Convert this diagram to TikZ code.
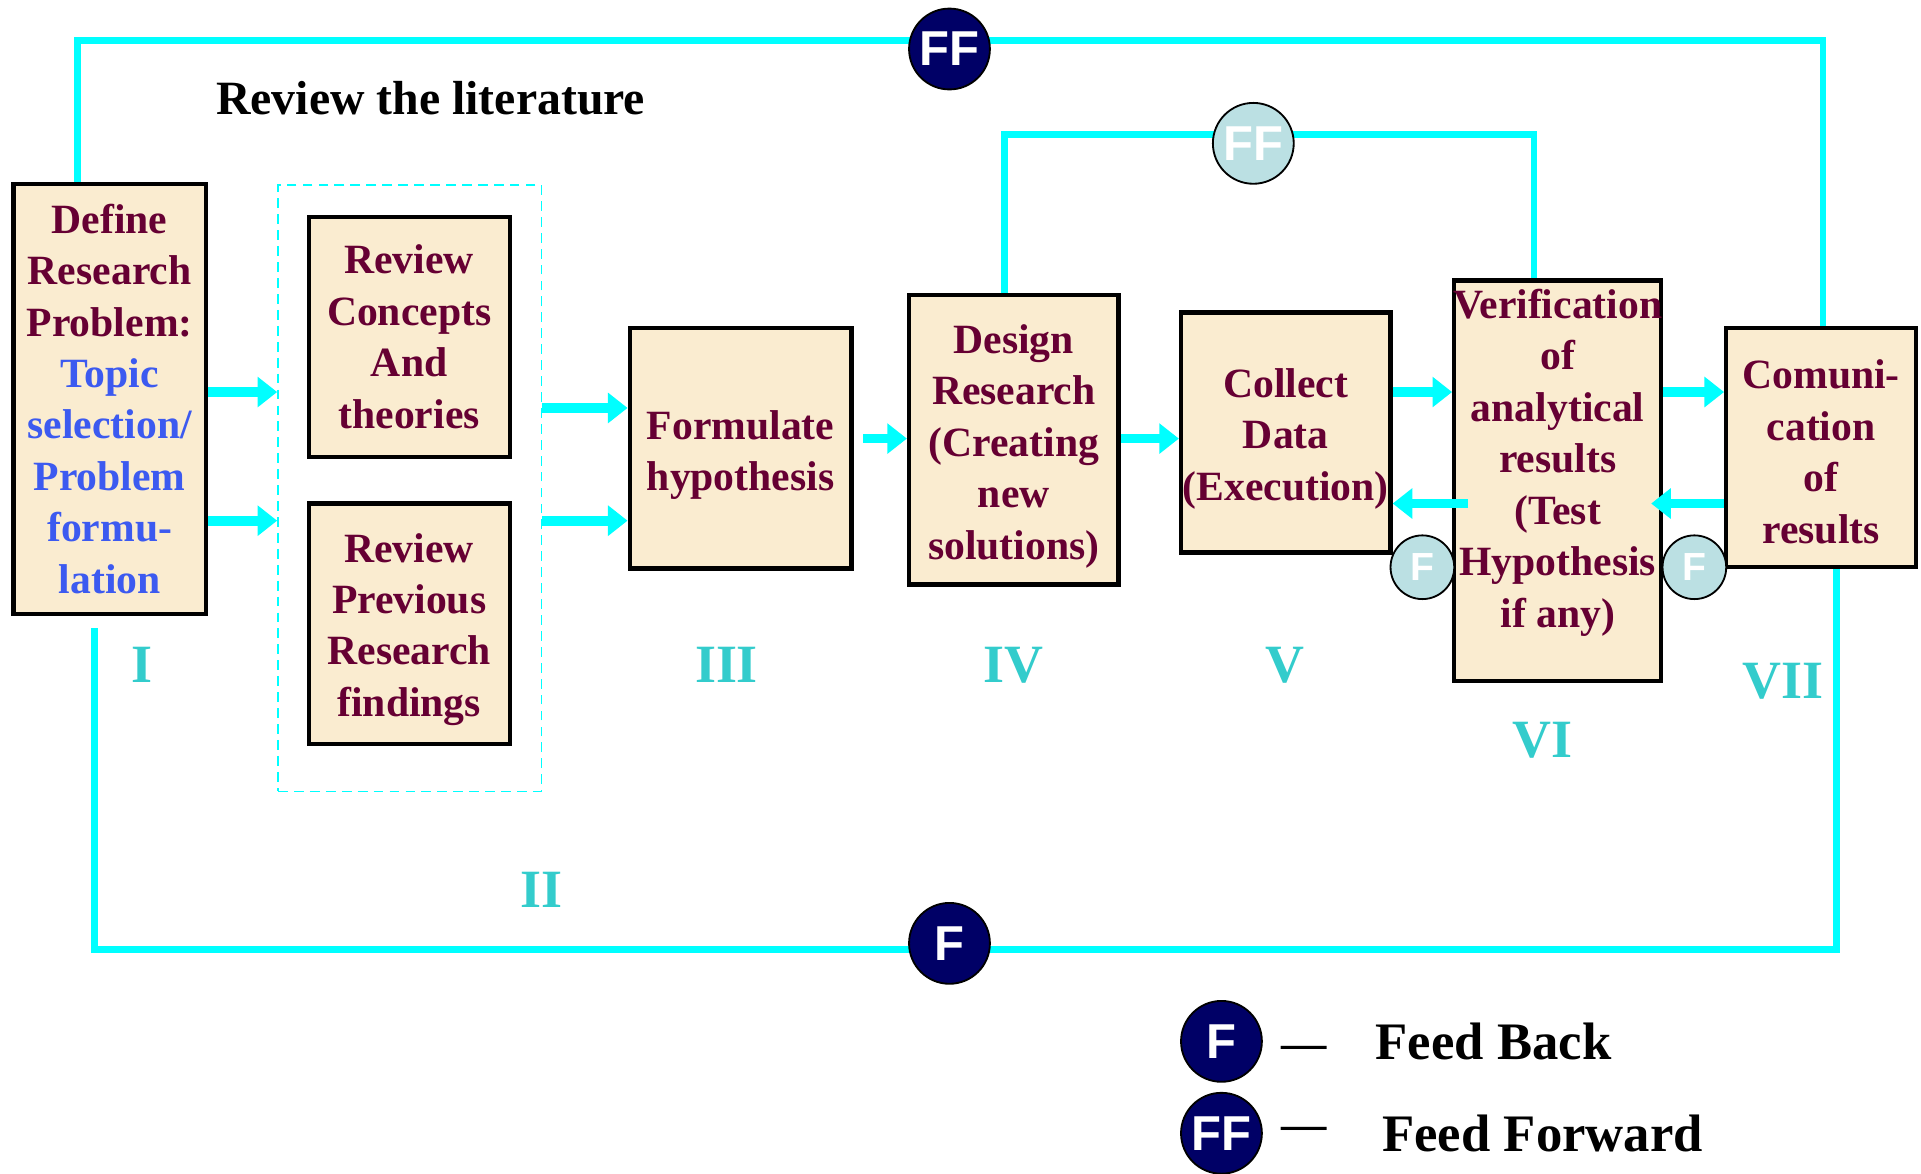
\documentclass[tikz,border=0pt]{standalone}
\usepackage{fontspec}
\setmainfont{Liberation Serif}
\newfontfamily\circfont{Liberation Sans}
\usepackage{xcolor}
\usepackage{tikz}
\usetikzlibrary{positioning,arrows.meta,calc}
\definecolor{boxfill}{RGB}{250,236,208}
\definecolor{wine}{RGB}{102,0,51}
\definecolor{topicblue}{RGB}{60,90,240}
\definecolor{aqua}{RGB}{0,255,255}
\definecolor{numteal}{RGB}{51,204,204}
\definecolor{navy}{RGB}{0,0,102}
\definecolor{paleblue}{RGB}{187,224,227}
\newcommand{\stagestrut}[1]{\rule{0pt}{#1pt}}
\tikzset{
stagetext/.style={text=wine,align=center,inner sep=0pt,font=\bfseries\fontsize{34}{42}\selectfont},
stage/.style={stagetext,draw=black,line width=3.5pt,fill=boxfill},
fb/.style={draw=aqua,line width=5.5pt},
arr/.style={draw=aqua,line width=8pt,-{Triangle[length=16pt,width=24pt]}},
darkdot/.style={circle,draw=black,line width=1.5pt,fill=navy,text=white,inner sep=0pt,minimum size=66pt,font=\circfont\bfseries\fontsize{40}{40}\selectfont},
palebig/.style={darkdot,fill=paleblue},
palesmall/.style={palebig,minimum size=52pt,font=\circfont\bfseries\fontsize{32}{32}\selectfont},
numeral/.style={text=numteal,font=\bfseries\fontsize{44}{44}\selectfont},
keytext/.style={inner sep=0pt,font=\bfseries\fontsize{43}{43}\selectfont},
keydash/.style={inner sep=0pt,font=\bfseries\fontsize{37}{37}\selectfont}
}
\begin{document}
\begin{tikzpicture}[x=1pt,y=-1pt]
\useasboundingbox (0,0) rectangle (1568,957.5);
\node[font=\bfseries\fontsize{39}{39}\selectfont] (title) at (351.5,80) {Review the literature};
\node(def)  [stage,minimum width=157,minimum height=351] at (89.5,325.5)
  {Define\\Research\\Problem:\\\textcolor{topicblue}{Topic}\\\textcolor{topicblue}{selection/}\\\textcolor{topicblue}{Problem}\\\textcolor{topicblue}{formu-}\\\textcolor{topicblue}{lation}};
\node(lit)  [draw=aqua,line width=1.5pt,dash pattern=on 8pt off 5pt,minimum width=215,minimum height=495] at (334.5,398.5) {};
\node(rc)   [stage,minimum width=164,minimum height=196] at (334,275) {Review\\Concepts\\And\\theories};
\node(rp)   [stage,minimum width=164,minimum height=196] at (334,509) {\stagestrut{33}Review\\Previous\\Research\\findings};
\node(form) [stage,minimum width=181,minimum height=196] at (604.5,366) {\stagestrut{34}Formulate\\hypothesis};
\node(des)  [stage,minimum width=171,minimum height=236] at (827.5,359) {\stagestrut{34}Design\\Research\\(Creating\\new\\solutions)};
\node(col)  [stage,minimum width=171,minimum height=196] at (1049.5,353) {\stagestrut{34}Collect\\Data\\(Execution)};
\node(ver)  [stage,minimum width=169,minimum height=327] at (1271.5,392.5) {};
\node(vertext) [stagetext] at (1271.5,377.5) {Verification\\of\\analytical\\results\\(Test\\Hypothesis\\if any)};
\node(comm) [stage,minimum width=155,minimum height=195] at (1486.5,365.5) {\stagestrut{30}Comuni-\\cation\\of\\results};
\coordinate (topline) at (775,33);
\coordinate (midline) at (1023,110);
\coordinate (botline) at (775,775);
\draw[fb] (def.north-|63,0) |- (topline) -| (comm.north-|1488,0);
\draw[fb] (des.north-|820,0) |- (midline) -| (ver.north-|1252,0);
\draw[fb,shorten <=10pt] (def.south-|77,0) |- (botline) -| (comm.south-|1499,0);
\draw[arr] (def.east|-0,320) -- (lit.west|-0,320);
\draw[arr] (def.east|-0,425) -- (lit.west|-0,425);
\draw[arr] (lit.east|-0,333) -- (form.west|-0,333);
\draw[arr] (lit.east|-0,425) -- (form.west|-0,425);
\draw[arr,shorten <=8pt] (form.east|-0,358) -- (des.west|-0,358);
\draw[arr] (des.east|-0,358) -- (col.west|-0,358);
\draw[arr] (col.east|-0,320) -- (ver.west|-0,320);
\draw[arr,shorten <=-13pt] (ver.west|-0,411) -- (col.east|-0,411);
\draw[arr] (ver.east|-0,320) -- (comm.west|-0,320);
\draw[arr,shorten >=-10pt] (comm.west|-0,411) -- (ver.east|-0,411);
\node(ffTop) [darkdot] at (775,40) {FF};
\node(ffMid) [palebig] at (1023,117) {FF};
\node(fBot)  [darkdot] at (775,770) {F};
\node(fCol)  [palesmall] at (1161,463) {F};
\node(fVer)  [palesmall] at (1383,463) {F};
\foreach \x/\y/\r [count=\i] in {116/543/I,442/726/II,593/543/III,827/543/IV,1049/543/V,1259/604/VI,1455/556/VII}
\node(num\i) [numeral] at (\x,\y) {\r};
\node(keyF)  [darkdot] at (997,850) {F};
\node(keyFF) [darkdot] at (997,925) {FF};
\node(dashF)  [keydash,right=15pt of keyF,yshift=-9pt] {---};
\node(dashFF) [keydash,right=15pt of keyFF] {---};
\node(txtF)  [keytext,right=40pt of keyF.east,xshift=52pt] {Feed Back};
\node(txtFF) [keytext,right=45pt of dashFF] {Feed Forward};
\end{tikzpicture}
\end{document}
